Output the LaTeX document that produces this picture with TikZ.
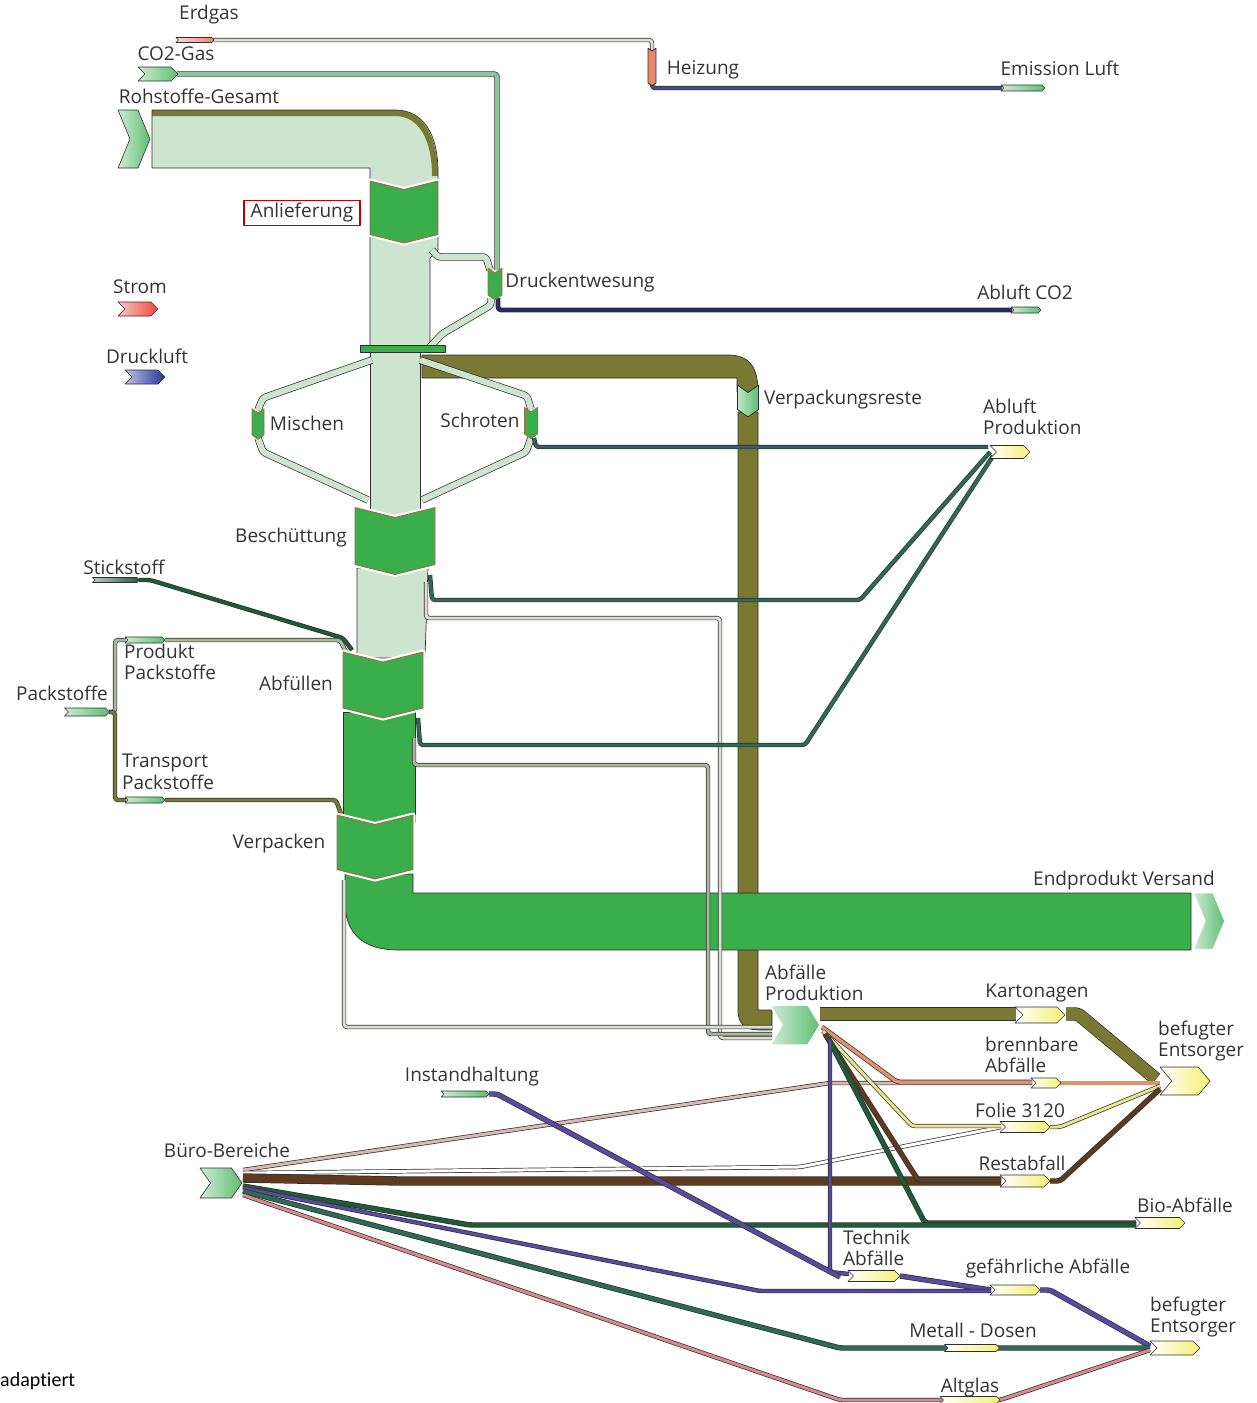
\documentclass[tikz,border=0pt]{standalone}
\usepackage{fontspec}
\setmainfont{Open Sans}
\newfontfamily\notefont{Carlito}
\usetikzlibrary{shapes.symbols}

\definecolor{edgeDark}{HTML}{2E2E2E}
\definecolor{labelGray}{HTML}{333333}
\definecolor{bandPale}{HTML}{CDE5CE}
\definecolor{blockGreen}{HTML}{3AAE4B}
\definecolor{blockRim}{HTML}{A8684C}
\definecolor{oliveFlow}{HTML}{7A7934}
\definecolor{navyFlow}{HTML}{272B63}
\definecolor{slateFlow}{HTML}{3D5A66}
\definecolor{tealFlow}{HTML}{2F6A55}
\definecolor{grassFlow}{HTML}{8CC79A}
\definecolor{palePipe}{HTML}{DCDDD4}
\definecolor{sageFlow}{HTML}{A9B89B}
\definecolor{salmonFlow}{HTML}{E2906E}
\definecolor{roseFlow}{HTML}{D9B9B6}
\definecolor{strawFlow}{HTML}{E6E58E}
\definecolor{brownFlow}{HTML}{5E3B1F}
\definecolor{bioFlow}{HTML}{1E5B38}
\definecolor{violetFlow}{HTML}{5A4BA0}
\definecolor{pinkFlow}{HTML}{D88A8C}
\definecolor{heatFlow}{HTML}{E9876A}
\definecolor{nodeYellow}{HTML}{F4F070}
\definecolor{tipGreen}{HTML}{5DBE72}
\definecolor{stromRed}{HTML}{F0453A}
\definecolor{druckBlue}{HTML}{27349A}
\definecolor{ventFlow}{HTML}{4A4C8C}

\tikzset{
  sankey/.style={x=1pt, y=-1pt, line join=round},
  lbl/.style={font=\fontsize{19}{21.5}\selectfont, text=labelGray, inner sep=1pt, align=left},
  flowPipe/.style={draw=edgeDark, line width=0.7pt, double=#1, double distance=3pt,
    rounded corners=3pt},
  flowBand/.style={fill=#1, draw=edgeDark, line width=0.7pt},
  procBlock/.style={shape=signal, signal from=north, signal to=south,
    signal pointer angle=152, fill=blockGreen, draw=blockRim, line width=0.9pt,
    inner sep=0pt, preaction={draw=white, line width=5pt}},
  flowTip/.style={shape=signal, signal from=west, signal to=east, draw=edgeDark,
    line width=0.6pt, inner sep=0pt, left color=#1!30!white, right color=#1},
  wasteTip/.style={flowTip=nodeYellow, left color=white, right color=nodeYellow},
  stepTip/.style={shape=signal, signal from=north, signal to=south, draw=blockRim,
    line width=0.8pt, inner sep=0pt, fill=#1, signal pointer angle=110},
}

\begin{document}
\begin{tikzpicture}[sankey]
\useasboundingbox (0,0) rectangle (1256,1403);

% ---------------- wide bands ----------------
% Rohstoffe-Gesamt into Anlieferung
\fill[bandPale] (152,110) -- (395,110) .. controls (424,110) and (438,135) .. (438,172)
  -- (438,190) -- (370,190) -- (370,168) -- (152,168) -- cycle;
\draw[oliveFlow, line width=6pt] (152,113) -- (395,113)
  .. controls (421,113) and (435,138) .. (435,176);
\draw[edgeDark, line width=0.7pt] (152,110) -- (395,110)
  .. controls (424,110) and (438,135) .. (438,172) -- (438,186)
  (370,186) -- (370,168) -- (152,168) -- (152,110);

% main column, light parts
\draw[flowBand=bandPale] (370,236) -- (438,236) -- (438,250) -- (430,258)
  -- (430,352) -- (370,352) -- cycle;
\draw[flowBand=bandPale] (370,350) rectangle (420,516);
\draw[flowBand=bandPale] (357,568) -- (428,568) -- (425,658) -- (357,658) -- cycle;
% main column, dark part
\draw[flowBand=blockGreen] (343,712) rectangle (415,822);

% olive band to Verpackungsreste
\draw[flowBand=oliveFlow] (422,355) -- (728,355)
  .. controls (750,355) and (758,368) .. (758,392) -- (737,392) -- (737,378)
  -- (422,378) -- cycle;
\draw[flowBand=oliveFlow] (738,412) -- (738,1010)
  .. controls (738,1025) and (746,1030) .. (760,1030) -- (772,1030)
  -- (772,1010) -- (758,1010) -- (758,412) -- cycle;

% Endprodukt band
\draw[flowBand=blockGreen] (345,874) -- (345,902)
  .. controls (345,935) and (365,950) .. (398,950) -- (1191,950)
  -- (1191,893) -- (413,893) -- (413,874) -- cycle;

% ---------------- thin flows ----------------
\draw[flowPipe=palePipe] (212,40) -- (652,40) -- (652,50);
\draw[flowPipe=ventFlow] (652,84) -- (652,88) -- (1002,88);
\draw[flowPipe=grassFlow, double distance=4pt] (177,74) -- (497,74) -- (497,270);
\draw[flowPipe=bandPale, double distance=6pt] (432,250) -- (438,257) -- (486,257) -- (490,270);
\draw[flowPipe=bandPale, double distance=6pt] (491,298) -- (491,305) -- (442,334) -- (430,347);
\draw[flowPipe=navyFlow, double distance=3.5pt] (498,298) -- (498,310) -- (1012,310);

\draw[flowPipe=bandPale, double distance=6pt] (372,360) -- (263,398) -- (258,410);
\draw[flowPipe=bandPale, double distance=6pt] (258,438) -- (263,452) -- (368,500);
\draw[flowPipe=bandPale, double distance=6pt] (420,360) -- (527,396) -- (531,409);
\draw[flowPipe=bandPale, double distance=6pt] (531,438) -- (526,452) -- (422,500);
\draw[flowPipe=slateFlow] (534,438) -- (536,447) -- (988,447);

\draw[flowPipe=tealFlow] (430,575) -- (432,600) -- (860,600) -- (990,452);
\draw[flowPipe=palePipe] (426,582) -- (426,618) -- (720,618) -- (720,1038) -- (772,1038);
\draw[flowPipe=tealFlow] (418,718) -- (420,745) -- (805,745) -- (993,456);
\draw[flowPipe=sageFlow] (414,738) -- (414,765) -- (708,765) -- (708,1034) -- (772,1034);
\draw[flowPipe=palePipe] (344,880) -- (344,1027) -- (772,1027);

\draw[flowPipe=bioFlow] (139,580) -- (150,580) -- (343,638) -- (352,650);
\draw[flowPipe=sageFlow] (109,712) -- (115,712) -- (115,640) -- (126,640);
\draw[flowPipe=sageFlow] (165,640) -- (340,640) -- (346,652);
\draw[flowPipe=oliveFlow] (109,712) -- (115,712) -- (115,800) -- (126,800);
\draw[flowPipe=oliveFlow] (165,800) -- (336,800) -- (341,814);

% waste distribution
\draw[flowPipe=oliveFlow, double distance=12pt, rounded corners=2pt] (820,1014) -- (1016,1014);
\draw[flowPipe=oliveFlow, double distance=12pt, rounded corners=2pt] (1066,1014) -- (1078,1014) -- (1156,1079);
\draw[flowPipe=roseFlow] (243,1170) -- (830,1083) -- (1032,1083);
\draw[flowPipe=salmonFlow, double distance=3.5pt] (822,1027) -- (897,1082) -- (1032,1082);
\draw[flowPipe=salmonFlow, double distance=3.5pt] (1060,1083) -- (1160,1083);
\draw[flowPipe=white] (243,1173) -- (800,1167) -- (1001,1127);
\draw[flowPipe=strawFlow] (823,1031) -- (912,1126) -- (1001,1126);
\draw[flowPipe=strawFlow] (1050,1127) -- (1060,1127) -- (1160,1086);
\draw[flowPipe=brownFlow, double distance=8pt] (243,1178) -- (400,1181) -- (1001,1181);
\draw[flowPipe=brownFlow, double distance=4pt] (825,1034) -- (918,1180) -- (1001,1180);
\draw[flowPipe=brownFlow, double distance=4pt] (1050,1181) -- (1060,1181) -- (1160,1089);
\draw[flowPipe=bioFlow, double distance=4pt] (828,1038) -- (925,1223) -- (1136,1223);
\draw[flowPipe=bioFlow, double distance=4pt] (243,1186) -- (470,1225) -- (1136,1225);
\draw[flowPipe=violetFlow] (830,1040) -- (830,1272) -- (849,1274);
\draw[flowPipe=violetFlow, double distance=4pt] (489,1094) -- (497,1094) -- (840,1277);
\draw[flowPipe=violetFlow, double distance=4pt] (900,1276) -- (991,1290);
\draw[flowPipe=violetFlow] (243,1188) -- (760,1291) -- (991,1291);
\draw[flowPipe=violetFlow, double distance=4pt] (1040,1290) -- (1050,1290) -- (1150,1346);
\draw[flowPipe=tealFlow, double distance=4pt] (243,1191) -- (840,1348) -- (1150,1348);
\draw[flowPipe=pinkFlow] (243,1195) -- (840,1400) -- (1000,1400) -- (1150,1350);

% ---------------- process blocks and nodes ----------------
\fill[blockGreen, draw=edgeDark, line width=0.6pt] (360,345) rectangle (445,352);

\node[procBlock, minimum width=68pt, minimum height=45pt] (anlief) at (404,212) {};
\node[procBlock, minimum width=80pt, minimum height=47pt] (besch) at (395,541) {};
\node[procBlock, minimum width=80pt, minimum height=46pt] (abfuell) at (383,685) {};
\node[procBlock, minimum width=76pt, minimum height=45pt] (verpack) at (375,847) {};

\node[stepTip=blockGreen, minimum width=14pt, minimum height=22pt] (druck) at (495,284) {};
\node[stepTip=blockGreen, minimum width=12pt, minimum height=22pt] (mischen) at (258,424) {};
\node[stepTip=blockGreen, minimum width=13pt, minimum height=22pt] (schroten) at (531,423) {};
\node[stepTip=heatFlow, minimum width=8pt, minimum height=32pt, draw=edgeDark] (heizung) at (652,67) {};
\node[stepTip=tipGreen, minimum width=21pt, minimum height=17pt, draw=edgeDark,
      left color=tipGreen!40!white, right color=tipGreen] (verpRest) at (748,401) {};

\node[flowTip=tipGreen, minimum width=32pt, minimum height=58pt, signal pointer angle=135]
  (rohSrc) at (134,139) {};
\node[flowTip=tipGreen, minimum width=40pt, minimum height=14pt] (co2Src) at (158,74) {};
\node[flowTip=heatFlow, minimum width=38pt, minimum height=5pt] (erdSrc) at (195,40) {};
\node[flowTip=tipGreen, minimum width=44pt, minimum height=6pt] (emissEnd) at (1023,88) {};
\node[flowTip=tipGreen, minimum width=30pt, minimum height=6pt] (co2End) at (1026,310) {};
\node[wasteTip, minimum width=40pt, minimum height=13pt] (abluftProd) at (1010,452) {};
\node[flowTip=bioFlow, minimum width=47pt, minimum height=5pt] (stickSrc) at (116,580) {};
\node[flowTip=tipGreen, minimum width=45pt, minimum height=8pt] (packSrc) at (87,712) {};
\node[flowTip=tipGreen, minimum width=40pt, minimum height=6pt] (prodPack) at (145,640) {};
\node[flowTip=tipGreen, minimum width=40pt, minimum height=6pt] (transPack) at (145,800) {};
\node[flowTip=tipGreen, minimum width=32pt, minimum height=57pt, signal pointer angle=135,
      draw=white, line width=1.5pt] (endProd) at (1209,921) {};
\node[flowTip=tipGreen, minimum width=50pt, minimum height=40pt, signal pointer angle=118,
      draw=white, line width=1.5pt] (abfProd) at (795,1025) {};
\node[flowTip=tipGreen, minimum width=48pt, minimum height=6pt] (instSrc) at (465,1094) {};
\node[flowTip=tipGreen, minimum width=42pt, minimum height=30pt, signal pointer angle=110]
  (bueroSrc) at (221,1183) {};

\node[wasteTip, minimum width=50pt, minimum height=16pt] (karton) at (1040,1015) {};
\node[wasteTip, minimum width=50pt, minimum height=28pt, signal pointer angle=100] (entsA) at (1185,1081) {};
\node[wasteTip, minimum width=30pt, minimum height=10pt] (brenn) at (1046,1083) {};
\node[wasteTip, minimum width=50pt, minimum height=11pt] (folie) at (1025,1127) {};
\node[wasteTip, minimum width=50pt, minimum height=12pt] (rest) at (1025,1181) {};
\node[wasteTip, minimum width=50pt, minimum height=11pt] (bio) at (1160,1223) {};
\node[wasteTip, minimum width=52pt, minimum height=11pt] (technik) at (874,1276) {};
\node[wasteTip, minimum width=50pt, minimum height=10pt] (gefahr) at (1015,1290) {};
\node[wasteTip, minimum width=55pt, minimum height=7pt] (metall) at (972,1348) {};
\node[wasteTip, minimum width=60pt, minimum height=7pt] (altglas) at (970,1400) {};
\node[wasteTip, minimum width=50pt, minimum height=14pt] (entsB) at (1175,1348) {};

% legend
\node[flowTip=stromRed, minimum width=40pt, minimum height=14pt] (stromKey) at (138,309) {};
\node[flowTip=druckBlue, minimum width=40pt, minimum height=14pt] (druckKey) at (145,377) {};

% ---------------- labels ----------------
\node[lbl] (erdLbl) at (209,15) {Erdgas};
\node[lbl] (co2Lbl) at (176,54) {CO2-Gas};
\node[lbl] (rohLbl) at (199,96) {Rohstoffe-Gesamt};
\node[lbl] (heizLbl) at (703,70) {Heizung};
\node[lbl] (emissLbl) at (1060,68) {Emission Luft};
\node[lbl, draw=red!75!black, line width=1.6pt, inner xsep=7pt, inner ysep=3pt]
  (anliefLbl) at (302,213) {Anlieferung};
\node[lbl] (stromLbl) at (140,287) {Strom};
\node[lbl] (druckluftLbl) at (147,356) {Druckluft};
\node[lbl] (druckLbl) at (580,283) {Druckentwesung};
\node[lbl] (co2EndLbl) at (1025,292) {Abluft CO2};
\node[lbl] (mischLbl) at (307,423) {Mischen};
\node[lbl] (schrotLbl) at (480,420) {Schroten};
\node[lbl] (verpRestLbl) at (843,400) {Verpackungsreste};
\node[lbl, anchor=west] (abluftLbl) at (982,417) {Abluft\\Produktion};
\node[lbl] (beschLbl) at (291,538) {Beschüttung};
\node[lbl] (stickLbl) at (124,567) {Stickstoff};
\node[lbl, anchor=west] (prodPackLbl) at (123,662) {Produkt\\Packstoffe};
\node[lbl] (packLbl) at (62,693) {Packstoffe};
\node[lbl] (abfuellLbl) at (296,683) {Abfüllen};
\node[lbl, anchor=west] (transPackLbl) at (121,772) {Transport\\Packstoffe};
\node[lbl] (verpackLbl) at (279,844) {Verpacken};
\node[lbl] (endProdLbl) at (1124,881) {Endprodukt Versand};
\node[lbl, anchor=west] (abfProdLbl) at (764,983) {Abfälle\\Produktion};
\node[lbl] (kartonLbl) at (1037,993) {Kartonagen};
\node[lbl, anchor=west] (entsALbl) at (1157,1041) {befugter\\Entsorger};
\node[lbl, anchor=west] (brennLbl) at (984,1055) {brennbare\\Abfälle};
\node[lbl] (instLbl) at (472,1077) {Instandhaltung};
\node[lbl] (folieLbl) at (1020,1110) {Folie 3120};
\node[lbl] (bueroLbl) at (227,1150) {Büro-Bereiche};
\node[lbl] (restLbl) at (1022,1163) {Restabfall};
\node[lbl] (bioLbl) at (1185,1205) {Bio-Abfälle};
\node[lbl, anchor=west] (technikLbl) at (842,1248) {Technik\\Abfälle};
\node[lbl] (gefahrLbl) at (1048,1268) {gefährliche Abfälle};
\node[lbl, anchor=west] (entsBLbl) at (1149,1317) {befugter\\Entsorger};
\node[lbl] (metallLbl) at (973,1330) {Metall - Dosen};
\node[lbl] (altglasLbl) at (970,1388) {Altglas};
\node[lbl, font=\notefont\fontsize{20}{22}\selectfont, text=black, anchor=west]
  (noteLbl) at (-1,1381) {adapt\kern0pt iert};

\end{tikzpicture}
\end{document}
